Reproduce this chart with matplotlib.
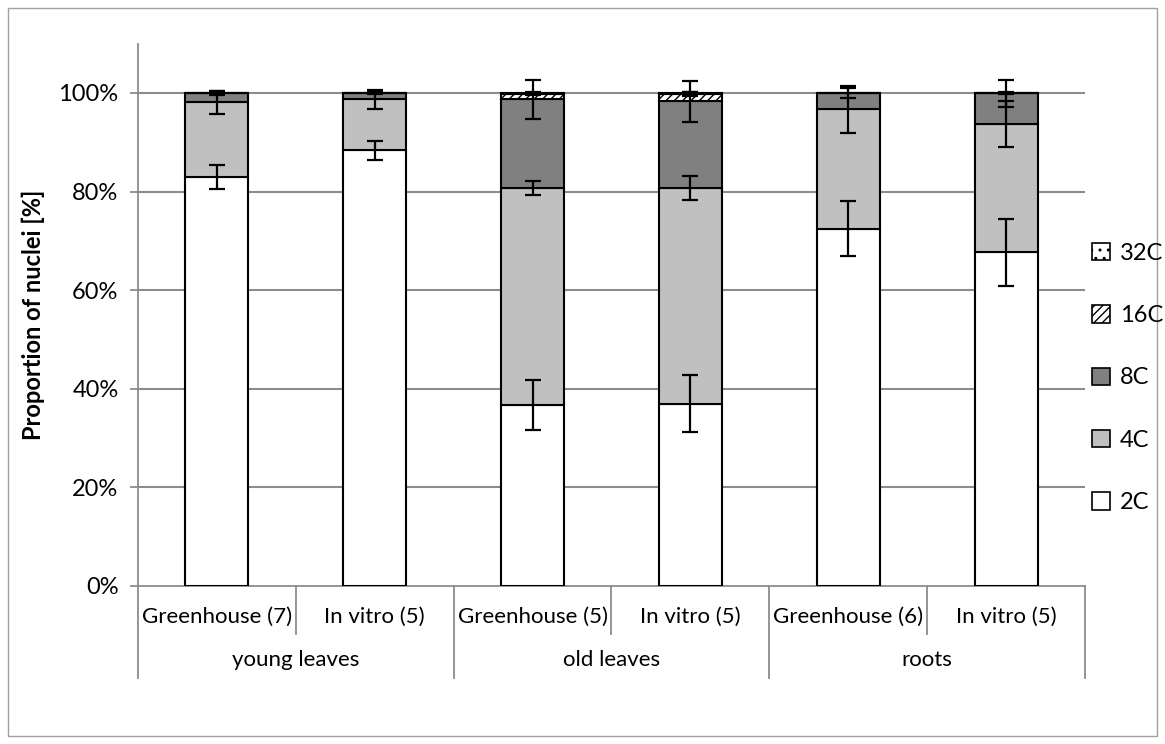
import matplotlib
matplotlib.use("Agg")
import matplotlib.pyplot as plt
from matplotlib.patches import Patch, Rectangle
from matplotlib.lines import Line2D
import matplotlib.ticker as mticker
import numpy as np

plt.rcParams['font.family'] = ['Lato', 'DejaVu Sans']
plt.rcParams['hatch.linewidth'] = 1.0

categories = ["Greenhouse (7)", "In vitro (5)", "Greenhouse (5)", "In vitro (5)", "Greenhouse (6)", "In vitro (5)"]
groups = ["young leaves", "old leaves", "roots"]
series = ["2C", "4C", "8C", "16C", "32C"]

v2C = [83.0, 88.4, 36.7, 37.0, 72.5, 67.7]
v4C = [15.1, 10.3, 44.0, 43.7, 24.2, 26.0]
v8C = [1.9, 1.3, 18.0, 17.6, 3.3, 6.2]
v16C = [0.0, 0.0, 1.1, 1.5, 0.0, 0.1]
v32C = [0.0, 0.0, 0.2, 0.2, 0.0, 0.0]

e2C = [2.4, 1.9, 5.1, 5.8, 5.6, 6.8]
e4C = [2.4, 2.0, 1.35, 2.4, 4.8, 4.6]
e8C = [0.4, 0.3, 3.9, 4.2, 1.0, 2.7]
e16C = [0.0, 0.0, 0.3, 0.5, 0.0, 0.2]
e32C = [0.0, 0.0, 0.2, 0.3, 0.0, 0.0]

values = [v2C, v4C, v8C, v16C, v32C]
errors = [e2C, e4C, e8C, e16C, e32C]
colors = ["white", "#C0C0C0", "#808080", "white", "white"]
hatches = [None, None, None, "////", ".."]

FS = 16
W, H = 1165, 744
fig = plt.figure(figsize=(W / 100, H / 100), dpi=100)
ax = fig.add_axes([138 / W, 1 - 586 / H, (1085 - 138) / W, (586 - 43.7) / H])

x = np.arange(len(categories))
bottom = np.zeros(len(categories))
for vals, errs, c, h, name in zip(values, errors, colors, hatches, series):
    vals = np.array(vals) / 100
    ax.bar(x, vals, width=0.40, bottom=bottom, color=c, edgecolor="black",
           linewidth=1.5, hatch=h, zorder=3, label=name)
    top = bottom + vals
    mask = vals > 0
    ax.errorbar(x[mask], top[mask], yerr=np.array(errs)[mask] / 100, fmt="none",
                ecolor="black", elinewidth=1.6, capsize=5.5, capthick=1.6, zorder=5)
    bottom = top

ax.set_xlim(-0.5, len(categories) - 0.5)
ax.set_ylim(0, 1.1)
ax.set_yticks(np.arange(0, 1.01, 0.2))
ax.yaxis.set_major_formatter(mticker.FuncFormatter(lambda v, p: f"{v*100:.0f}%"))
gridc = "#8C8C8C"
for yv in np.arange(0.2, 1.01, 0.2):
    ax.axhline(yv, color=gridc, linewidth=1.5, zorder=1)

for s in ["top", "right"]:
    ax.spines[s].set_visible(False)
ax.spines["left"].set_color(gridc)
ax.spines["bottom"].set_color(gridc)
ax.spines["left"].set_linewidth(1.3)
ax.spines["bottom"].set_linewidth(1.3)
ax.tick_params(axis="y", length=6, color=gridc, width=1.3, labelsize=FS + 1, pad=8)
ax.set_xticks([])
ax.set_ylabel("Proportion of nuclei [%]", fontsize=FS + 1, fontweight="bold", labelpad=10)

# multi-level category axis
ah = 586 - 43.7
y_minor = -(634 - 586) / ah
y_major = -(678 - 586) / ah
trans = ax.get_xaxis_transform()
for i in range(len(categories) + 1):
    xb = i - 0.5
    yend = y_major if i % 2 == 0 else y_minor
    ax.add_line(Line2D([xb, xb], [0, yend], transform=trans, color=gridc,
                       linewidth=1.3, clip_on=False))
for i, lab in enumerate(categories):
    ax.text(i, -(617 - 586) / ah, lab, transform=trans, ha="center", va="center", fontsize=FS)
for g, lab in enumerate(groups):
    ax.text(2 * g + 0.5, -(660 - 586) / ah, lab, transform=trans, ha="center", va="center", fontsize=FS)

# legend
handles = [Patch(facecolor=c, edgecolor="black", hatch=h, linewidth=1.2)
           for c, h in zip(colors, hatches)]
leg = fig.legend(handles[::-1], series[::-1], loc="center left",
                 bbox_to_anchor=(1080 / W, 1 - 378 / H), frameon=False,
                 fontsize=FS + 1, handlelength=0.75, handleheight=0.75,
                 handletextpad=0.45, labelspacing=1.75, borderpad=0)

# chart border
fig.add_artist(Rectangle((8 / W, 8 / H), (1157 - 8) / W, (736 - 8) / H,
                         transform=fig.transFigure, fill=False,
                         edgecolor="#A0A0A0", linewidth=1.0))

fig.savefig("out.png", dpi=100)
